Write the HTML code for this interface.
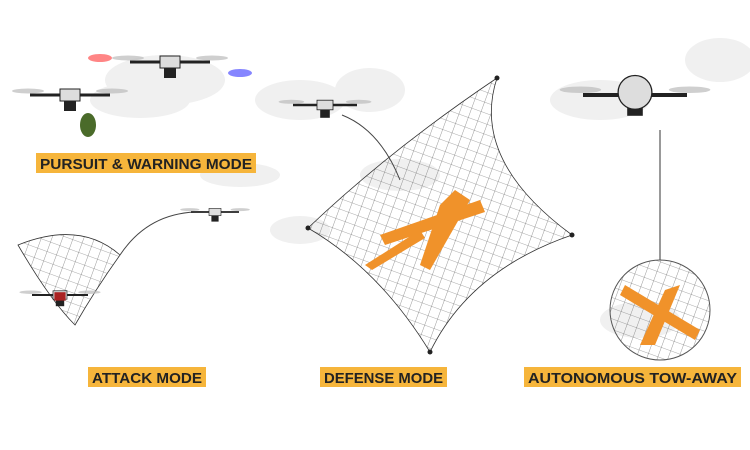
<!DOCTYPE html>
<html><head><meta charset="utf-8"><style>
html,body{margin:0;padding:0;background:#fff;width:750px;height:450px;overflow:hidden}
svg{display:block}
text{font-family:"Liberation Sans",sans-serif;font-weight:bold;font-size:15px;fill:#222}
</style></head><body>
<svg width="750" height="450" viewBox="0 0 750 450">
<defs>
<pattern id="net" width="10" height="10" patternUnits="userSpaceOnUse" patternTransform="rotate(20)">
<path d="M0 0H10M0 0V10" stroke="#555" stroke-width="0.6" fill="none"/></pattern>
<g id="drone">
<line x1="-40" y1="0" x2="40" y2="0" stroke="#222" stroke-width="3"/>
<ellipse cx="-42" cy="-4" rx="16" ry="2.5" fill="#bbb" opacity=".7"/>
<ellipse cx="42" cy="-4" rx="16" ry="2.5" fill="#bbb" opacity=".7"/>
<rect x="-10" y="-6" width="20" height="12" fill="#ddd" stroke="#222"/>
<rect x="-6" y="6" width="12" height="10" fill="#222"/>
</g>
</defs>
<g fill="#f0f0f0">
<ellipse cx="165" cy="80" rx="60" ry="25"/><ellipse cx="140" cy="100" rx="50" ry="18"/>
<ellipse cx="300" cy="100" rx="45" ry="20"/><ellipse cx="370" cy="90" rx="35" ry="22"/>
<ellipse cx="300" cy="230" rx="30" ry="14"/><ellipse cx="600" cy="100" rx="50" ry="20"/>
<ellipse cx="720" cy="60" rx="35" ry="22"/><ellipse cx="640" cy="320" rx="40" ry="18"/>
<ellipse cx="400" cy="175" rx="40" ry="16"/><ellipse cx="240" cy="175" rx="40" ry="12"/>
</g>
<g transform="translate(70,95)"><use href="#drone"/><ellipse cx="18" cy="30" rx="8" ry="12" fill="#4a6b2a"/></g>
<g transform="translate(170,62)"><use href="#drone"/></g>
<ellipse cx="100" cy="58" rx="12" ry="4" fill="#f33" opacity=".6"/>
<ellipse cx="240" cy="73" rx="12" ry="4" fill="#33f" opacity=".6"/>
<path d="M18 245 Q80 220 120 255 Q95 290 75 325 Q50 300 18 245Z" fill="url(#net)" stroke="#333" stroke-width=".8"/>
<path d="M120 255 Q150 210 205 212" fill="none" stroke="#444"/>
<g transform="translate(215,212) scale(.6)"><use href="#drone"/></g>
<g transform="translate(60,295) scale(.7)"><use href="#drone"/><rect x="-8" y="-4" width="16" height="12" fill="#a22"/></g>
<path d="M308 228 Q390 150 497 78 Q470 160 572 235 Q470 270 430 352 Q380 270 308 228Z" fill="url(#net)" stroke="#333" stroke-width=".8"/>
<g fill="#222"><circle cx="308" cy="228" r="2.5"/><circle cx="497" cy="78" r="2.5"/><circle cx="572" cy="235" r="2.5"/><circle cx="430" cy="352" r="2.5"/></g>
<path d="M342 115 Q380 130 400 180" fill="none" stroke="#444"/>
<g transform="translate(325,105) scale(.8)"><use href="#drone"/></g>
<g fill="#f0922a"><path d="M380 235 L480 200 L485 212 L385 245Z"/><path d="M440 205 L455 190 L470 200 L430 270 L420 265Z"/><path d="M365 265 L420 230 L425 238 L372 270Z"/></g>
<g transform="translate(635,95) scale(1.3)"><use href="#drone"/><circle cx="0" cy="-2" r="13" fill="#ddd" stroke="#222"/></g>
<line x1="660" y1="130" x2="660" y2="260" stroke="#333"/>
<circle cx="660" cy="310" r="50" fill="url(#net)" stroke="#555"/>
<g fill="#f0922a"><path d="M625 285 L700 330 L695 340 L620 295Z"/><path d="M665 290 L680 285 L655 345 L640 345Z"/></g>
<rect x="36" y="153" width="220" height="20" fill="#f6b53b"/><text x="40" y="169" textLength="212" lengthAdjust="spacingAndGlyphs">PURSUIT &amp; WARNING MODE</text>
<rect x="88" y="367" width="118" height="20" fill="#f6b53b"/><text x="92" y="383" textLength="110" lengthAdjust="spacingAndGlyphs">ATTACK MODE</text>
<rect x="320" y="367" width="127" height="20" fill="#f6b53b"/><text x="324" y="383" textLength="119" lengthAdjust="spacingAndGlyphs">DEFENSE MODE</text>
<rect x="524" y="367" width="217" height="20" fill="#f6b53b"/><text x="528" y="383" textLength="209" lengthAdjust="spacingAndGlyphs">AUTONOMOUS TOW-AWAY</text>
</svg>
</body></html>
